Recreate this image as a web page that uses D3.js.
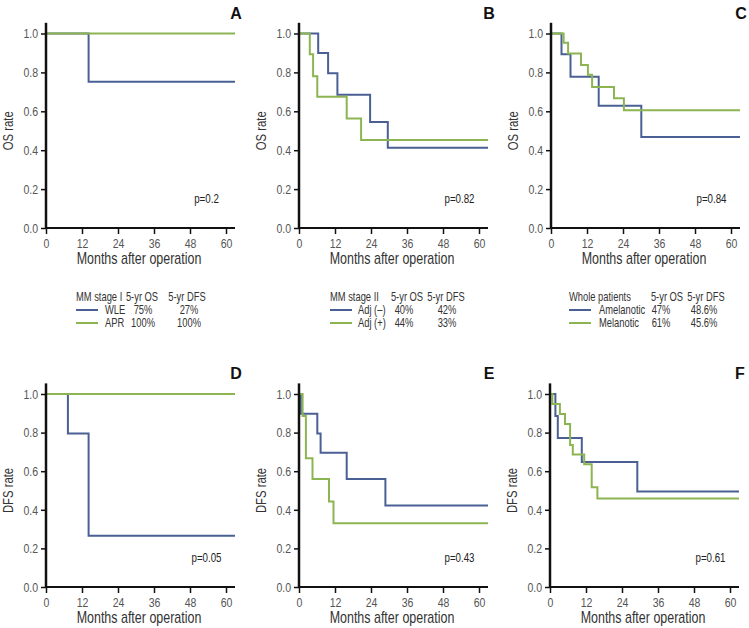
<!DOCTYPE html>
<html>
<head>
<meta charset="utf-8">
<script src="https://cdn.jsdelivr.net/npm/d3@7"></script>
<style>
  body { margin: 0; background: #fff; }
  svg { font-family: "Liberation Sans", Arial, sans-serif; }
</style>
</head>
<body>
<script>
const w = 749;
const h = 628;

// x ticks and y ticks
const monthTicks = [0, 12, 24, 36, 48, 60];
const rateTicks = [0, 0.2, 0.4, 0.6, 0.8, 1.0];

// Kaplan-Meier steps: [month, rate]
const osA_blue = [[0, 1], [14.2, 0.752]];
const osA_green = [[0, 1]];
const osB_blue = [[0, 1], [6.4, 0.9], [9.7, 0.795], [12.8, 0.685], [23.7, 0.545], [29.6, 0.412]];
const osB_green = [[0, 1], [3.6, 0.893], [4.7, 0.78], [6.1, 0.675], [15.9, 0.563], [20.7, 0.452]];
const osC_blue = [[0, 1], [3.5, 0.893], [6.5, 0.778], [15.9, 0.628], [30.1, 0.468]];
const osC_green = [[0, 1], [4.2, 0.952], [5.7, 0.897], [10.0, 0.838], [12.3, 0.788], [13.7, 0.725], [21.0, 0.667], [24.3, 0.605]];
const dfsD_blue = [[0, 1], [7.3, 0.795], [14.2, 0.265]];
const dfsD_green = [[0, 1]];
const dfsE_blue = [[0, 1], [0.6, 0.898], [6.1, 0.795], [7.2, 0.695], [15.9, 0.56], [28.8, 0.422]];
const dfsE_green = [[0, 1], [1.2, 0.886], [2.3, 0.667], [4.5, 0.56], [10.0, 0.443], [11.5, 0.33]];
const dfsF_blue = [[0, 1], [1.8, 0.886], [2.6, 0.772], [10.6, 0.648], [29.1, 0.495]];
const dfsF_green = [[0, 1], [0.8, 0.948], [3.3, 0.897], [5.0, 0.845], [6.7, 0.736], [7.6, 0.686], [10.6, 0.686], [11.4, 0.636], [13.9, 0.517], [15.8, 0.458]];

const pValues = ['p=0.2', 'p=0.82', 'p=0.84', 'p=0.05', 'p=0.43', 'p=0.61'];
const panelLetters = ['A', 'B', 'C', 'D', 'E', 'F'];

// legends
const legendHeads = [['MM stage I', '5-yr OS', '5-yr DFS'], ['MM stage II', '5-yr OS', '5-yr DFS'], ['Whole patients', '5-yr OS', '5-yr DFS']];
const legendRowsBlue = [['WLE', '75%', '27%'], ['Adj (\u2013)', '40%', '42%'], ['Amelanotic', '47%', '48.6%']];
const legendRowsGreen = [['APR', '100%', '100%'], ['Adj (+)', '44%', '33%'], ['Melanotic', '61%', '45.6%']];

const blue = '#4a6094';
const green = '#8cb552';

const svg = d3.select('body')
   .append('svg')
   .attr('width', w)
   .attr('height', h);

const panels = [
   { x0: 46, yTop: 33.5, yBot: 228, blue: osA_blue, green: osA_green, label: 'OS rate' },
   { x0: 299, yTop: 33.5, yBot: 228, blue: osB_blue, green: osB_green, label: 'OS rate' },
   { x0: 551, yTop: 33.5, yBot: 228, blue: osC_blue, green: osC_green, label: 'OS rate' },
   { x0: 46, yTop: 394, yBot: 587, blue: dfsD_blue, green: dfsD_green, label: 'DFS rate' },
   { x0: 299, yTop: 394, yBot: 587, blue: dfsE_blue, green: dfsE_green, label: 'DFS rate' },
   { x0: 550, yTop: 394, yBot: 587, blue: dfsF_blue, green: dfsF_green, label: 'DFS rate' }
];

const xMax = 63;

panels.forEach(function (p, i) {
   const xScale = d3.scaleLinear().domain([0, 60]).range([p.x0, p.x0 + 180]);
   const yScale = d3.scaleLinear().domain([0, 1]).range([p.yBot, p.yTop]);
   const g = svg.append('g');

   const line = d3.line()
      .x((d) => xScale(d[0]))
      .y((d) => yScale(d[1]))
      .curve(d3.curveStepAfter);

   [[p.blue, blue], [p.green, green]].forEach(function (s) {
      const pts = s[0].concat([[xMax, s[0][s[0].length - 1][1]]]);
      g.append('path')
         .datum(pts)
         .attr('d', line)
         .attr('fill', 'none')
         .attr('stroke', s[1])
         .attr('stroke-width', 2);
   });

   // x axis
   const xAxis = d3.axisBottom(xScale).tickValues(monthTicks).tickSize(6).tickPadding(4);
   const gx = g.append('g')
      .attr('transform', 'translate(0,' + p.yBot + ')')
      .call(xAxis);
   gx.select('.domain').remove();
   gx.append('line')
      .attr('x1', xScale(0)).attr('x2', xScale(xMax))
      .attr('stroke', '#111').attr('stroke-width', 2);
   gx.selectAll('.tick line').attr('stroke', '#111').attr('stroke-width', 1.5);
   gx.selectAll('.tick text').attr('class', 'narrow').attr('fill', '#555').style('font-size', '13.5px');

   // y axis
   const yAxis = d3.axisLeft(yScale).tickValues(rateTicks).tickFormat(d3.format('.1f')).tickSize(5).tickPadding(3);
   const gy = g.append('g')
      .attr('transform', 'translate(' + p.x0 + ',0)')
      .call(yAxis);
   gy.select('.domain').remove();
   gy.append('line')
      .attr('y1', yScale(1.055)).attr('y2', yScale(0) + 1)
      .attr('stroke', '#111').attr('stroke-width', 2.5);
   gy.selectAll('.tick line').attr('stroke', '#111').attr('stroke-width', 1.5);
   gy.selectAll('.tick text').attr('class', 'narrow').attr('fill', '#555').style('font-size', '13.5px');

   // labels
   g.append('text')
      .attr('class', 'narrow')
      .attr('transform', 'translate(' + (p.x0 - 33) + ',' + ((p.yTop + p.yBot) / 2) + ') rotate(-90)')
      .attr('text-anchor', 'middle')
      .attr('fill', '#333')
      .style('font-size', '14.5px')
      .text(p.label);

   g.append('text')
      .attr('class', 'narrow')
      .attr('x', xScale(31))
      .attr('y', p.yBot + 36)
      .attr('text-anchor', 'middle')
      .attr('fill', '#333')
      .style('font-size', '16px')
      .text('Months after operation');

   g.append('text')
      .attr('class', 'narrow')
      .attr('x', xScale(53.5))
      .attr('y', yScale(0.13))
      .attr('text-anchor', 'middle')
      .attr('fill', '#222')
      .style('font-size', '12.5px')
      .text(pValues[i]);

   g.append('text')
      .attr('x', xScale(xMax) + 1)
      .attr('y', p.yTop - 15)
      .attr('text-anchor', 'middle')
      .attr('fill', '#111')
      .style('font-weight', 'bold')
      .style('font-size', '16px')
      .text(panelLetters[i]);
});

// legends
const legendX = [76, 330, 569];
const headX = [
   [0, 66, 111],
   [0, 77, 116],
   [0, 98, 137]
];
const rowX = [
   [29, 67, 113],
   [28, 74, 117],
   [30, 92, 135]
];

legendHeads.forEach(function (head, i) {
   const lg = svg.append('g')
      .attr('transform', 'translate(' + legendX[i] + ',0)')
      .style('font-size', '12px')
      .attr('fill', '#333');

   head.forEach(function (t, j) {
      lg.append('text')
         .attr('class', 'narrow')
         .attr('x', headX[i][j])
         .attr('y', 301)
         .attr('text-anchor', j === 0 ? 'start' : 'middle')
         .text(t);
   });

   [[legendRowsBlue[i], blue, 314], [legendRowsGreen[i], green, 327]].forEach(function (r) {
      lg.append('line')
         .attr('x1', 0).attr('x2', 22)
         .attr('y1', r[2] - 4).attr('y2', r[2] - 4)
         .attr('stroke', r[1]).attr('stroke-width', 2);
      r[0].forEach(function (t, j) {
         lg.append('text')
            .attr('class', 'narrow')
            .attr('x', rowX[i][j])
            .attr('y', r[2])
            .attr('text-anchor', j === 0 ? 'start' : 'middle')
            .text(t);
      });
   });
});

// squeeze texts horizontally to get the condensed look
svg.selectAll('text.narrow').each(function () {
   const t = d3.select(this);
   const x = +t.attr('x') || 0;
   const y = +t.attr('y') || 0;
   const tr = t.attr('transform') || '';
   t.attr('x', 0).attr('y', 0)
      .attr('transform', tr + ' translate(' + x + ',' + y + ') scale(0.78,1)');
});
</script>
</body>
</html>
